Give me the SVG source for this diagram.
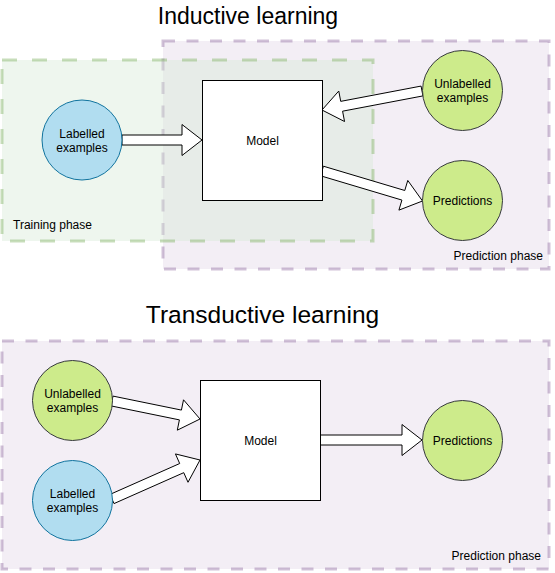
<svg xmlns="http://www.w3.org/2000/svg" width="555" height="573" viewBox="0 0 555 573">
<style>
text{font-family:"Liberation Sans",Arial,Helvetica,sans-serif;fill:#000}
.title{font-size:23px;text-anchor:middle}
.lbl{font-size:12px;text-anchor:middle}
.phase{font-size:12px}
.purple{fill:#e1d5e7;fill-opacity:0.4;stroke:#9673a6;stroke-opacity:0.45;stroke-width:3;stroke-dasharray:12 11.5}
.green{fill:#d5e8d4;fill-opacity:0.4;stroke:#82b366;stroke-opacity:0.45;stroke-width:3;stroke-dasharray:15 15}
.model{fill:#fff;stroke:#000;stroke-width:1}
.blue{fill:#b1ddf0;stroke:#10739e;stroke-width:1}
.lime{fill:#cdeb8b;stroke:#36393d;stroke-width:1}
.arrow{fill:#fff;stroke:#000;stroke-width:1;stroke-linejoin:miter}
</style>
<rect width="555" height="573" fill="#fff"/>

<text class="title" x="248" y="24">Inductive learning</text>
<text class="title" x="262.5" y="323" style="font-size:24.5px">Transductive learning</text>

<g id="prediction-phase-top">
<rect class="purple" x="163" y="41" width="386" height="228"/>
<text class="phase" x="543" y="260" text-anchor="end">Prediction phase</text>
</g>
<g id="training-phase">
<rect class="green" x="2" y="60" width="371" height="181"/>
<text class="phase" x="13" y="229">Training phase</text>
</g>
<g id="prediction-phase-bottom">
<rect class="purple" x="2" y="341" width="547" height="228"/>
<text class="phase" x="541" y="560" text-anchor="end">Prediction phase</text>
</g>

<g id="connectors">
<polygon class="arrow" points="122,135 182,135 182,124.5 202,140 182,155.5 182,145 122,145"/>
<polygon class="arrow" points="421.07,86.09 340.72,101.36 338.76,91.04 322,110 344.54,121.5 342.58,111.18 422.93,95.91"/>
<polygon class="arrow" points="323.43,166.21 404.77,190.49 407.77,180.43 422.5,201 398.91,210.13 401.91,200.07 320.57,175.79"/>
<polygon class="arrow" points="113,396.1 181.41,410.09 183.52,399.8 200,419 177.3,430.18 179.41,419.89 111,405.9"/>
<polygon class="arrow" points="109.97,494.43 179.69,463.53 175.44,453.93 200,460 188,482.27 183.75,472.67 114.03,503.57"/>
<polygon class="arrow" points="320,435 402,435 402,424.5 422,440 402,455.5 402,445 320,445"/>
</g>

<g id="labelled-top">
<circle class="blue" cx="82" cy="140" r="40"/>
<text class="lbl" x="82" y="137.5">Labelled</text>
<text class="lbl" x="82" y="151.5">examples</text>
</g>
<g id="model-top">
<rect class="model" x="202.5" y="80.5" width="120" height="120"/>
<text class="lbl" x="262.5" y="144.5">Model</text>
</g>
<g id="unlabelled-top">
<circle class="lime" cx="462.5" cy="90.5" r="40"/>
<text class="lbl" x="462.5" y="88">Unlabelled</text>
<text class="lbl" x="462.5" y="102">examples</text>
</g>
<g id="predictions-top">
<circle class="lime" cx="462.5" cy="200.5" r="40"/>
<text class="lbl" x="462.5" y="205">Predictions</text>
</g>

<g id="unlabelled-bottom">
<circle class="lime" cx="72.5" cy="400.5" r="40"/>
<text class="lbl" x="72.5" y="398">Unlabelled</text>
<text class="lbl" x="72.5" y="412">examples</text>
</g>
<g id="labelled-bottom">
<circle class="blue" cx="72.5" cy="500.5" r="40"/>
<text class="lbl" x="72.5" y="498">Labelled</text>
<text class="lbl" x="72.5" y="512">examples</text>
</g>
<g id="model-bottom">
<rect class="model" x="200.5" y="380.5" width="120" height="120"/>
<text class="lbl" x="260.5" y="444.5">Model</text>
</g>
<g id="predictions-bottom">
<circle class="lime" cx="462.5" cy="440.5" r="40"/>
<text class="lbl" x="462.5" y="445">Predictions</text>
</g>
</svg>
